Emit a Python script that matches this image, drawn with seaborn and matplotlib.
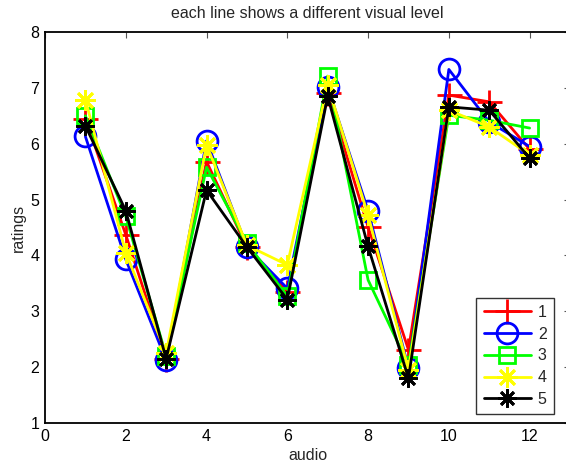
import matplotlib
matplotlib.use('Agg')
import matplotlib.pyplot as plt
import pandas as pd
import seaborn as sns

sns.set_theme(style='white')
plt.rcParams['font.family'] = ['Liberation Sans', 'DejaVu Sans']

audio = [1, 2, 3, 4, 5, 6, 7, 8, 9, 10, 11, 12]
level_1 = [6.45, 4.37, 2.15, 5.68, 4.15, 3.35, 6.91, 4.51, 2.31, 6.87, 6.75, 5.90]
level_2 = [6.13, 3.93, 2.12, 6.05, 4.15, 3.41, 7.02, 4.80, 1.98, 7.33, 6.39, 5.95]
level_3 = [6.50, 4.70, 2.20, 5.58, 4.22, 3.27, 7.21, 3.56, 2.04, 6.51, 6.42, 6.28]
level_4 = [6.79, 4.05, 2.25, 5.98, 4.18, 3.83, 7.05, 4.72, 1.95, 6.60, 6.30, 5.80]
level_5 = [6.32, 4.80, 2.15, 5.17, 4.15, 3.21, 6.85, 4.16, 1.80, 6.66, 6.60, 5.74]
level_names = ['1', '2', '3', '4', '5']

series = [level_1, level_2, level_3, level_4, level_5]
colors = ['#ff0000', '#0000ff', '#00ff00', '#ffff00', '#000000']
markers = ['+', 'o', 's', (8, 2, 0), (8, 2, 0)]
sizes = [18, 15, 12, 15, 13]

fig = plt.figure(figsize=(5.66, 4.67), dpi=100)
ax = fig.add_axes([45 / 566, 1 - 423 / 467, (570 - 45) / 566, (423 - 32) / 467])

for name, vals, col, mk, ms in zip(level_names, series, colors, markers, sizes):
    df = pd.DataFrame({'audio': audio, 'rating': vals})
    sns.lineplot(data=df, x='audio', y='rating', ax=ax, color=col, marker=mk,
                 markersize=ms, markerfacecolor='none', markeredgecolor=col,
                 markeredgewidth=2, linewidth=2, label=name)

ax.set_xlim(0, 13)
ax.set_ylim(1, 8)
ax.set_xticks([0, 2, 4, 6, 8, 10, 12])
ax.set_yticks([1, 2, 3, 4, 5, 6, 7, 8])
ax.tick_params(direction='in', length=4, width=0.8, colors='#555555',
               labelcolor='black', labelsize=11.5, top=True, right=True, pad=4)
for sp in ax.spines.values():
    sp.set_color('black')
    sp.set_linewidth(1.3)

fig.text(307 / 566, 1 - 14 / 467, 'each line shows a different visual level',
         fontsize=11.5, ha='center', va='center')
ax.set_xlabel('audio', fontsize=11.5, labelpad=3)
ax.set_ylabel('ratings', fontsize=11.5, labelpad=3)

leg = ax.legend(loc='lower right', bbox_to_anchor=(554 / 566, 1 - 414 / 467),
                bbox_transform=fig.transFigure, fontsize=11.5, frameon=True,
                fancybox=False, handlelength=3.0, labelspacing=0.42,
                borderpad=0.45, handletextpad=0.4, borderaxespad=0)
leg.get_frame().set_edgecolor('black')
leg.get_frame().set_linewidth(1.0)

fig.savefig('out.png', dpi=100)
